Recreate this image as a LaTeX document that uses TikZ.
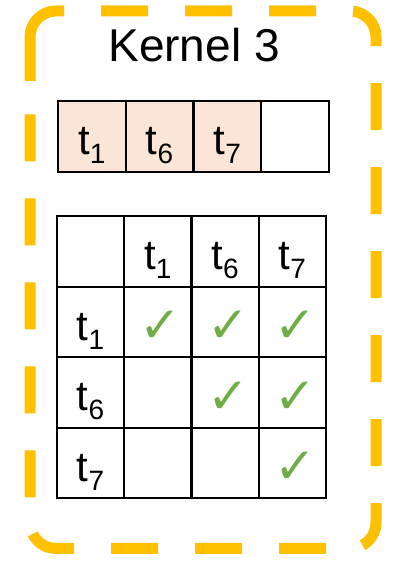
\documentclass[tikz,border=0pt]{standalone}
\usepackage{fontspec}
\setmainfont{Liberation Sans}
\newfontfamily\symfont{DejaVu Sans}
\usepackage{tikz}

\definecolor{kernelgold}{HTML}{FFC000}
\definecolor{slotfill}{HTML}{FBE5D6}
\definecolor{okgreen}{HTML}{70AD47}
\newcommand{\tk}[1]{t\raisebox{-9pt}{\fontsize{28}{28}\selectfont #1}}
\newcommand{\okmark}{{\symfont\fontsize{50}{50}\selectfont ✓}}

\begin{document}
\begin{tikzpicture}[x=1pt,y=1pt,
    cell/.style={draw,line width=2pt,minimum width=67.25pt,minimum height=70.5pt,inner sep=0pt},
    slot/.style={cell,minimum width=67.75pt,minimum height=71pt},
    lbl/.style={anchor=base,inner sep=0pt,font=\fontsize{42}{42}\selectfont},
    tick/.style={inner sep=0pt,text=okgreen},
    border/.style={kernelgold,line width=11pt,rounded corners=26pt}]
    \useasboundingbox (0,0) rectangle (398,563);
    % dashed kernel frame, long dash at the top left corner
    \draw[border,dash pattern=on 47pt off 37pt]
      (101,552) -- (376,552) -- (376,14.5) -- (30,14.5) -- (30,482);
    \draw[border] (30,482) -- (30,552) -- (64,552);
    \node[anchor=base,inner sep=0pt,font=\fontsize{46}{46}\selectfont] (title) at (194,501) {Kernel 3};
    % slots of the kernel
    \foreach \i/\x/\c in {1/91.9/slotfill,2/159.6/slotfill,3/227.4/slotfill,4/295.1/white}
      \node[slot,fill=\c] (q\i) at (\x,426.5) {};
    \foreach \i/\t in {1/1,2/6,3/7}
      \node[lbl] (ql\i) at ([yshift=-18.5pt]q\i.center) {\tk{\t}};
    % table
    \foreach \r/\y in {0/311.5,1/241,2/170.5,3/100}
      \foreach \c/\x in {0/90.6,1/157.9,2/225.1,3/292.4}
        \node[cell] (m\r\c) at (\x,\y) {};
    \foreach \k/\t in {1/1,2/6,3/7} {
      \node[lbl] (h\k) at ([yshift=-18.5pt]m0\k.center) {\tk{\t}};
      \node[lbl] (r\k) at ([yshift=-18.5pt]m\k0.center) {\tk{\t}};
    }
    \foreach \r/\c in {1/1,1/2,1/3,2/2,2/3,3/3}
      \node[tick] (ok\r\c) at ([xshift=3pt,yshift=-5pt]m\r\c.center) {\okmark};
\end{tikzpicture}
\end{document}
